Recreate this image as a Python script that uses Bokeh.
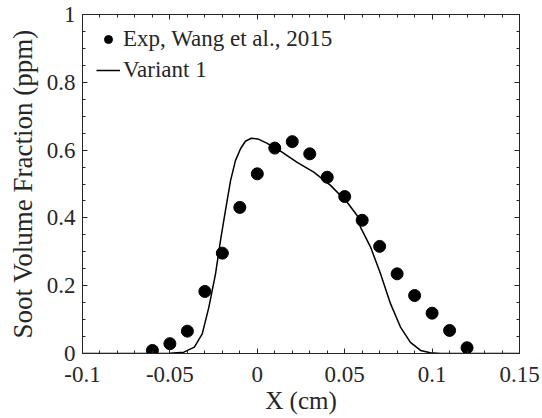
from bokeh.plotting import figure
from bokeh.models import (FixedTicker, LinearAxis, Legend, LegendItem, Range1d)
from bokeh.embed import file_html
from bokeh.resources import INLINE

# Experimental data (Wang et al., 2015)
exp_x = [-0.06, -0.05, -0.04, -0.03, -0.02, -0.01, 0.0, 0.01, 0.02, 0.03,
         0.04, 0.05, 0.06, 0.07, 0.08, 0.09, 0.10, 0.11, 0.12]
exp_y = [0.009, 0.029, 0.066, 0.183, 0.296, 0.431, 0.530, 0.606, 0.625, 0.589,
         0.520, 0.463, 0.393, 0.316, 0.235, 0.171, 0.119, 0.068, 0.017]

# Simulation, Variant 1
sim_x = [-0.10, -0.06, -0.05, -0.042, -0.036, -0.0315, -0.0277, -0.0239, -0.021,
         -0.0182, -0.0153, -0.0125, -0.0096, -0.0068, -0.0035, 0.0003, 0.0057,
         0.0133, 0.0228, 0.0323, 0.0419, 0.0514, 0.0571, 0.059, 0.0648, 0.0705,
         0.0762, 0.0819, 0.0876, 0.0934, 0.099, 0.105, 0.15]
sim_y = [0.0, 0.0, 0.001, 0.004, 0.019, 0.058, 0.137, 0.235, 0.335,
         0.422, 0.510, 0.569, 0.604, 0.626, 0.635, 0.633, 0.620,
         0.597, 0.564, 0.535, 0.496, 0.446, 0.407, 0.373, 0.314, 0.235,
         0.147, 0.078, 0.033, 0.009, 0.002, 0.0, 0.0]

x_ticks = [-0.1, -0.05, 0.0, 0.05, 0.1, 0.15]
x_tick_labels = ["-0.1", "-0.05", "0", "0.05", "0.1", "0.15"]
y_ticks = [0.0, 0.2, 0.4, 0.6, 0.8, 1.0]
y_tick_labels = ["0", "0.2", "0.4", "0.6", "0.8", "1"]
x_minor = [round(-0.1 + 0.01 * i, 2) for i in range(26)]
y_minor = [round(0.05 * i, 2) for i in range(21)]

FONT = "'Liberation Serif', 'Times New Roman', serif"
TXT = "#262626"

p = figure(width=542, height=418, output_backend="svg", toolbar_location=None,
           x_range=Range1d(-0.1, 0.15), y_range=Range1d(0, 1),
           min_border_left=82, min_border_right=23, min_border_top=14,
           min_border_bottom=65)
p.background_fill_color = "white"
p.border_fill_color = "white"
p.outline_line_color = TXT
p.outline_line_width = 1
p.xgrid.visible = False
p.ygrid.visible = False

xt = FixedTicker(ticks=x_ticks, minor_ticks=x_minor)
yt = FixedTicker(ticks=y_ticks, minor_ticks=y_minor)

def style(ax, labels=True):
    ax.axis_line_color = TXT
    ax.axis_line_width = 1
    ax.major_tick_line_color = TXT
    ax.minor_tick_line_color = TXT
    ax.major_tick_in = 5
    ax.major_tick_out = 0
    ax.minor_tick_in = 3
    ax.minor_tick_out = 0
    ax.major_label_text_font = FONT
    if labels:
        ax.major_label_text_color = TXT
        ax.major_label_text_font_size = "23px"
    else:
        ax.major_label_text_color = None
        ax.major_label_text_font_size = "1px"
        ax.major_label_standoff = 0

p.xaxis.ticker = xt
p.yaxis.ticker = yt
p.xaxis.major_label_overrides = {t: l for t, l in zip(x_ticks, x_tick_labels)}
p.yaxis.major_label_overrides = {t: l for t, l in zip(y_ticks, y_tick_labels)}
style(p.xaxis[0])
style(p.yaxis[0])
p.xaxis.major_label_standoff = 13
p.yaxis.major_label_standoff = 7
p.xaxis.axis_label = "X (cm)"
p.yaxis.axis_label = "Soot Volume Fraction (ppm)"
for ax in (p.xaxis[0], p.yaxis[0]):
    ax.axis_label_text_font = FONT
    ax.axis_label_text_font_style = "normal"
    ax.axis_label_text_color = TXT
p.xaxis.axis_label_text_font_size = "25px"
p.xaxis.axis_label_standoff = 2
p.yaxis.axis_label_text_font_size = "27px"
p.yaxis.axis_label_standoff = 6

top = LinearAxis(ticker=xt)
style(top, labels=False)
right = LinearAxis(ticker=yt)
style(right, labels=False)
p.add_layout(top, "above")
p.add_layout(right, "right")

r_exp = p.scatter(exp_x, exp_y, size=12, color="black", marker="circle")
r_sim = p.line(sim_x, sim_y, line_color="black", line_width=1.5)

legend = Legend(items=[LegendItem(label="Exp, Wang et al., 2015", renderers=[r_exp]),
                       LegendItem(label="Variant 1", renderers=[r_sim])],
                location=(14, 270))
legend.label_text_font = FONT
legend.label_text_font_size = "23px"
legend.label_text_color = TXT
legend.glyph_width = 24
legend.glyph_height = 20
legend.label_standoff = 3
legend.spacing = 5
legend.padding = 0
legend.margin = 0
legend.border_line_color = None
legend.background_fill_alpha = 0
p.add_layout(legend)

open("out.html", "w").write(file_html(p, INLINE))
